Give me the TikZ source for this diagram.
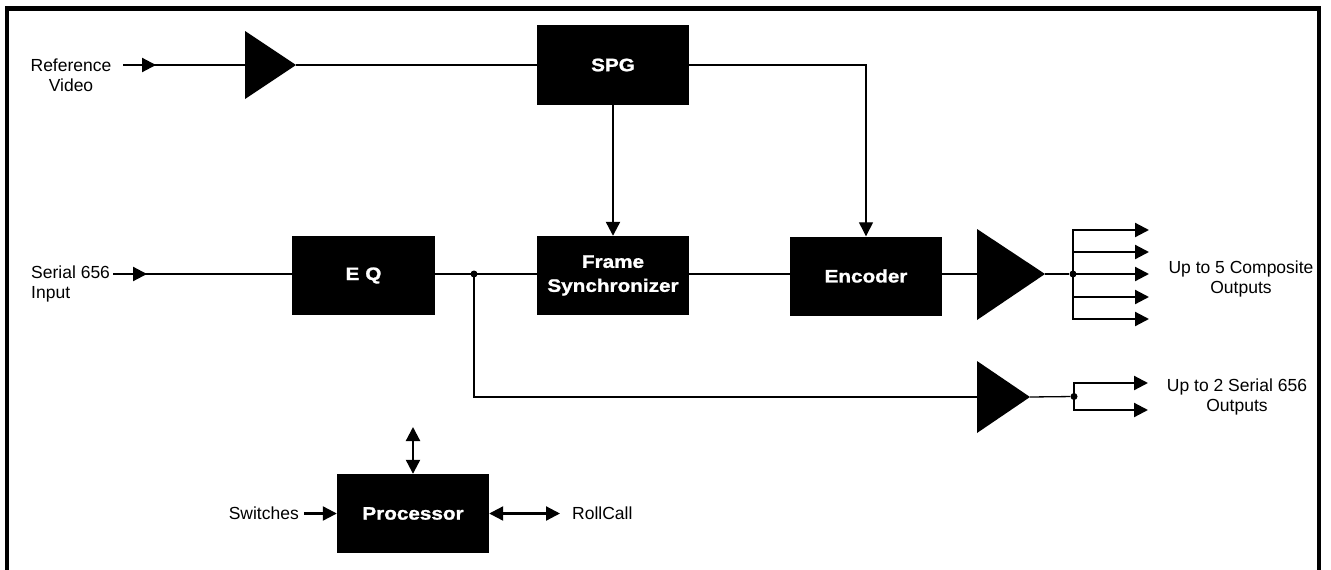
\documentclass[tikz,border=0pt]{standalone}
\usepackage{fontspec}
\setmainfont{Liberation Sans}
\newfontfamily\boxfont{Liberation Sans Bold}[FakeStretch=1.15,FakeBold=1.3]
\usetikzlibrary{arrows.meta}
\begin{document}
\begin{tikzpicture}[x=1pt,y=-1pt,
  box/.style={fill=black, draw=none, minimum width=152pt, minimum height=80pt, inner sep=0pt,
    text=white, font=\boxfont\fontsize{18}{24}\selectfont, align=center},
  lbl/.style={font=\fontsize{17.5}{20}\selectfont, inner sep=0pt},
  sig/.style={line width=2.2pt},
  thinsig/.style={line width=1.3pt},
  tip/.style={-{Triangle[length=14pt,width=14pt]}},
  dtip/.style={{Triangle[length=14pt,width=14pt]}-{Triangle[length=14pt,width=14pt]}},
  dot/.style={circle, fill=black, inner sep=0pt, minimum size=7pt}
]
\useasboundingbox (0,0) rectangle (1331,570);
% frame
\draw[line width=4.5pt] (7,580) -- (7,8.5) -- (1319,8.5) -- (1319,580);

% boxes
\node[box] (spg) at (613,65) {SPG};
\node[box, minimum height=79pt] (fs) at (613,275.5) {Frame\\Synchronizer};
\node[box, minimum height=79pt] (enc) at (866,276) {Encoder};
\node[box, minimum width=143pt, minimum height=79pt] (eq) at (363.5,275.5) {E\,\,Q};
\node[box, minimum height=79pt] (proc) at (413,513.5) {Processor};

% amplifiers (triangles)
\coordinate (t1in) at (245,65);  \coordinate (t1out) at (296,65);
\fill (245,31) -- (t1out) -- (245,99) -- cycle;
\coordinate (t2in) at (977,274); \coordinate (t2out) at (1045,274);
\fill (977,229) -- (t2out) -- (977,320) -- cycle;
\coordinate (t3in) at (977,397); \coordinate (t3out) at (1030,397);
\fill (977,361) -- (t3out) -- (977,433) -- cycle;

% reference video input
\node[lbl, align=center] (reflbl) at (71,75) {Reference\\Video};
\coordinate (refs) at (123,65); \coordinate (refa) at (156,65);
\draw[sig] (refs) -- (t1in);
\draw[sig,tip] (refs) -- (refa);
\draw[thinsig] (t1out) -- (spg.west);
\draw[thinsig,tip] (spg.east) -- (enc.north |- spg.east) -- (enc.north);
\draw[sig,tip] (spg.south) -- (fs.north);

% serial input
\node[lbl, align=left, anchor=west] (serlbl) at (31,284) {Serial 656\\Input};
\coordinate (sers) at (113,274); \coordinate (sera) at (147,274);
\draw[sig] (sers) -- (eq.west |- sers);
\draw[sig,tip] (sers) -- (sera);
\node[dot] (j1) at (474,274) {};
\draw[sig] (eq.east |- j1) -- (fs.west |- j1);
\draw[sig] (fs.east |- j1) -- (enc.west |- j1);
\draw[sig] (enc.east |- j1) -- (t2in);

% composite outputs
\node[dot] (j2) at (1073,274) {};
\draw[sig] (t2out) -- (j2);
\coordinate (o1) at (1149,230);
\coordinate (o2) at (1149,252);
\coordinate (o3) at (1149,274);
\coordinate (o4) at (1149,297);
\coordinate (o5) at (1149,319);
\draw[sig,tip] (j2.center) |- (o1);
\draw[sig,tip] (j2.center) |- (o2);
\draw[sig,tip] (j2.center) -- (o3);
\draw[sig,tip] (j2.center) |- (o4);
\draw[sig,tip] (j2.center) |- (o5);
\node[lbl, align=center] (complbl) at (1241,279) {Up to 5 Composite\\Outputs};

% serial outputs
\draw[thinsig] (j1.center) -- (j1 |- t3in) -- (t3in);
\node[dot] (j3) at (1074,396.5) {};
\draw[thinsig] (t3out) -- (j3);
\coordinate (s1) at (1148,383);
\coordinate (s2) at (1148,410);
\draw[sig,tip] (j3.center) |- (s1);
\draw[sig,tip] (j3.center) |- (s2);
\node[lbl, align=center] (serout) at (1237,396.5) {Up to 2 Serial 656\\Outputs};

% processor
\coordinate (ptop) at (413,427);
\draw[sig,dtip] (ptop) -- (proc.north);
\node[lbl, anchor=east] (sw) at (299,513.5) {Switches};
\draw[sig,tip] ([xshift=5pt]sw.east) -- (proc.west);
\coordinate (rc) at (560,513.5);
\draw[sig,dtip] (proc.east) -- (rc);
\node[lbl, anchor=west] (rclbl) at (572,513.5) {RollCall};
\end{tikzpicture}
\end{document}
